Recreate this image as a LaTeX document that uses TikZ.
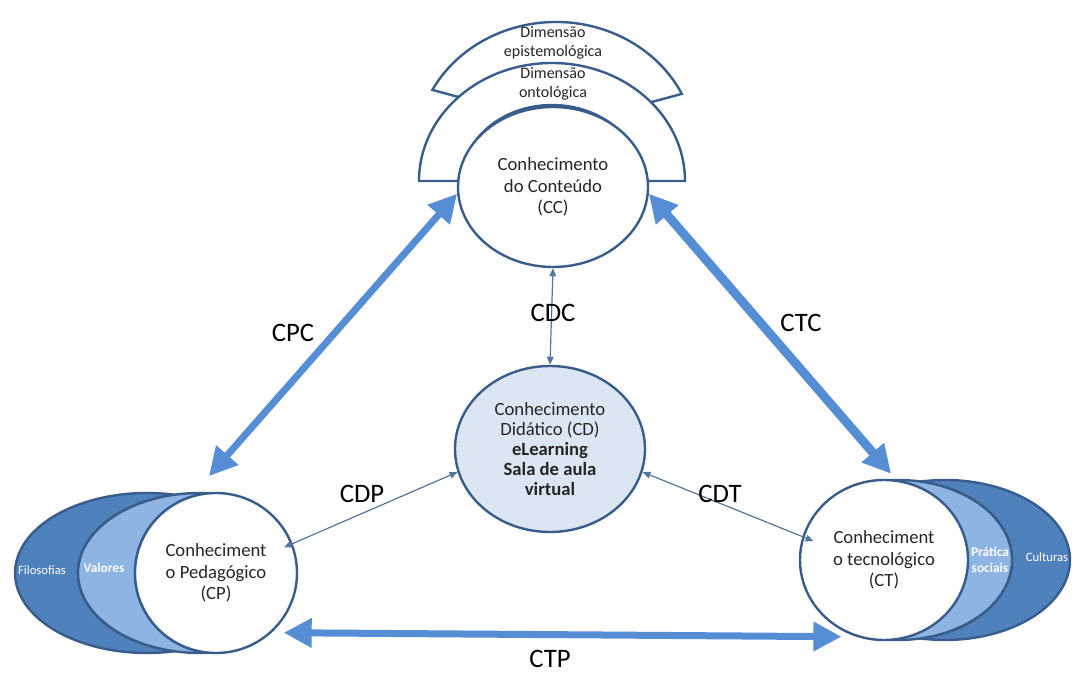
\documentclass[tikz,border=0pt]{standalone}
\usepackage{fontspec}
\setmainfont{Carlito}
\usetikzlibrary{arrows.meta,shapes.geometric}
\definecolor{edgeblue}{HTML}{385D8A}
\definecolor{arrowblue}{HTML}{558ED5}
\definecolor{darkfill}{HTML}{4F81BD}
\definecolor{lightfill}{HTML}{8EB4E3}
\definecolor{cdfill}{HTML}{DCE6F2}

\begin{document}
\begin{tikzpicture}
  [x=0.75pt, y=-0.75pt,
  know/.style={ellipse, draw=edgeblue, fill=white, line width=1.8pt,
    inner sep=0pt, align=center, text=black!85,
    font=\fontsize{14}{16}\selectfont},
  ring/.style={draw=edgeblue, fill=white, line width=1.8pt},
  crescent/.style={draw=edgeblue, line width=1.8pt},
  ringtext/.style={align=center, text=black!85, font=\fontsize{12}{14}\selectfont},
  moontext/.style={text=white, align=center, font=\fontsize{10}{11.5}\selectfont\bfseries},
  thicklink/.style={{Triangle[length=21pt,width=21pt]}-{Triangle[length=21pt,width=21pt]},
    draw=arrowblue, line width=5.25pt},
  thinlink/.style={{Triangle[length=6pt,width=5pt]}-{Triangle[length=6pt,width=5pt]},
    draw=edgeblue!85, line width=0.9pt},
  linkname/.style={font=\fontsize{20}{24}\selectfont}]

  \useasboundingbox (0,0) rectangle (1072,673);

  % dimensions above the content
  \coordinate (outer) at (556,150);
  \coordinate (inner) at (552,181);
  \draw[ring] ([shift={(208:140 and 128)}]outer) arc[start angle=208, end angle=334, x radius=140, y radius=128]
    -- ([shift={(328:100 and 85)}]outer) arc[start angle=328, end angle=215, x radius=100, y radius=85] -- cycle;
  \draw[ring] ([shift={(180:133 and 118)}]inner) arc[start angle=180, end angle=360, x radius=133, y radius=118]
    -- ([shift={(0:90 and 76)}]inner) arc[start angle=0, end angle=-180, x radius=90, y radius=76] -- cycle;
  \node[ringtext] (epist) at (553,43) {Dimensão\\epistemológica};
  \node[ringtext] (ontol) at (553,84) {Dimensão\\ontológica};

  \node[know, minimum width=142.5pt, minimum height=120pt] (CC) at (553,187) {Conhecimento\\do Conteúdo\\(CC)};

  % pedagogical side
  \draw[crescent, fill=darkfill] ([shift={(-78:132 and 80)}]147,573) arc[start angle=-78, end angle=-282, x radius=132, y radius=80]
    arc[start angle=102, end angle=258, x radius=122, y radius=80] -- cycle;
  \draw[crescent, fill=lightfill] ([shift={(-85.5:122 and 80)}]200,573) arc[start angle=-85.5, end angle=-274.5, x radius=122, y radius=80]
    arc[start angle=94.5, end angle=265.5, x radius=81, y radius=80] -- cycle;
  \node[know, minimum width=121.5pt, minimum height=120pt] (CP) at (216,573) {Conheciment\\o Pedagógico\\(CP)};
  \node[moontext, font=\fontsize{9.5}{11}\selectfont] (filo) at (42,570) {Filosofias};
  \node[moontext] (valo) at (104,568) {Valores};

  % technological side
  \draw[crescent, fill=darkfill] ([shift={(-101.3:125 and 80)}]945,560) arc[start angle=-101.3, end angle=101.3, x radius=125, y radius=80]
    arc[start angle=78.7, end angle=-78.7, x radius=114, y radius=80] -- cycle;
  \draw[crescent, fill=lightfill] ([shift={(-94.6:114 and 80)}]898,560) arc[start angle=-94.6, end angle=94.6, x radius=114, y radius=80]
    arc[start angle=85.4, end angle=-85.4, x radius=84, y radius=80] -- cycle;
  \node[know, minimum width=126pt, minimum height=120pt] (CT) at (884,560) {Conheciment\\o tecnológico\\(CT)};
  \node[moontext] (prat) at (990,560) {Prática\\sociais};
  \node[moontext, font=\fontsize{9.5}{11}\selectfont] (cult) at (1047,557) {Culturas};

  \node[know, fill=cdfill, minimum width=142.5pt, minimum height=124.5pt,
    font=\fontsize{14}{15}\selectfont] (CD) at (550,449)
    {Conhecimento\\Didático (CD)\\\textbf{eLearning}\\\textbf{Sala de aula}\\\textbf{virtual}};

  \draw[thicklink] ([yshift=12pt]CP.95) -- (CC.184);
  \draw[thicklink, line width=6.75pt] (CC.-4) -- ([yshift=4pt]CT.85);
  \draw[thicklink] ([xshift=9pt]CP.-47) -- ([xshift=-11pt]CT.-110);

  \draw[thinlink] (CC.south) -- (CD.north);
  \draw[thinlink, shorten >=-7pt] (CD.194) -- (CP.21);
  \draw[thinlink, shorten >=-9pt] (CD.-14) -- (CT.164);

  \node[linkname] (cpc) at (293,333) {CPC};
  \node[linkname] (ctc) at (801,323) {CTC};
  \node[linkname] (cdc) at (553,313) {CDC};
  \node[linkname] (cdp) at (362,494) {CDP};
  \node[linkname] (cdt) at (720,494) {CDT};
  \node[linkname] (ctp) at (550,659) {CTP};

\end{tikzpicture}
\end{document}
